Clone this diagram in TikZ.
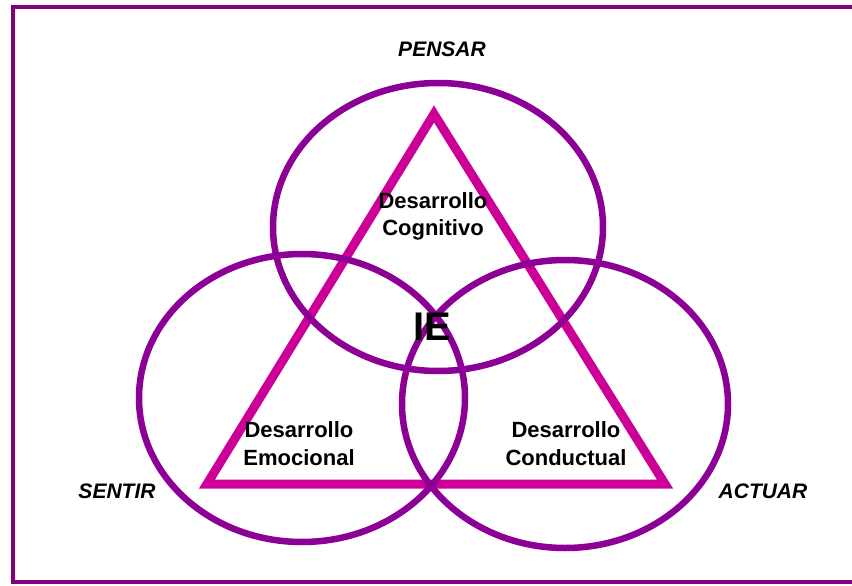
\documentclass[tikz,border=0pt]{standalone}
\usepackage{fontspec}
\setmainfont{Liberation Sans}
\definecolor{ringcol}{RGB}{140,0,150}
\definecolor{trianglecol}{RGB}{204,0,153}
\definecolor{framecol}{RGB}{128,0,128}
\tikzset{
  ring/.style={draw=ringcol,line width=6.5pt},
  tri/.style={draw=trianglecol,line width=9pt,line join=miter},
  frameline/.style={draw=framecol,line width=4pt},
  area/.style={anchor=base,inner sep=0pt,font=\fontsize{22}{26}\selectfont\bfseries},
  corner/.style={anchor=base,inner sep=0pt,font=\fontsize{21}{25}\selectfont\bfseries\itshape},
  centre/.style={anchor=base,inner sep=0pt,font=\fontsize{40}{44}\selectfont\bfseries}
}
\begin{document}
\begin{tikzpicture}[x=1pt,y=-1pt]
\useasboundingbox[fill=white] (0,0) rectangle (852,586);
% frame
\draw[frameline] (852,7.5) -- (12.5,7.5) -- (12.5,582) -- (852,582);
% triangle
\draw[tri] (434,114) -- (665,484) -- (207,484) -- cycle;
% three rings
\draw[ring] (438,227) ellipse [x radius=165pt,y radius=144pt];
\draw[ring] (302,398) ellipse [x radius=163pt,y radius=144pt];
\draw[ring] (565,404) ellipse [x radius=163pt,y radius=144pt];
% labels
\node[corner] (pensar) at (442,57) {PENSAR};
\node[corner] (sentir) at (117,498) {SENTIR};
\node[corner] (actuar) at (763,498) {ACTUAR};
\node[area] (cog1) at (433,208) {Desarrollo};
\node[area] (cog2) at (433,235) {Cognitivo};
\node[area] (emo1) at (299,437) {Desarrollo};
\node[area] (emo2) at (299,465) {Emocional};
\node[area] (con1) at (566,437) {Desarrollo};
\node[area] (con2) at (566,465) {Conductual};
\node[centre] (ie) at (432,340) {IE};
\end{tikzpicture}
\end{document}
